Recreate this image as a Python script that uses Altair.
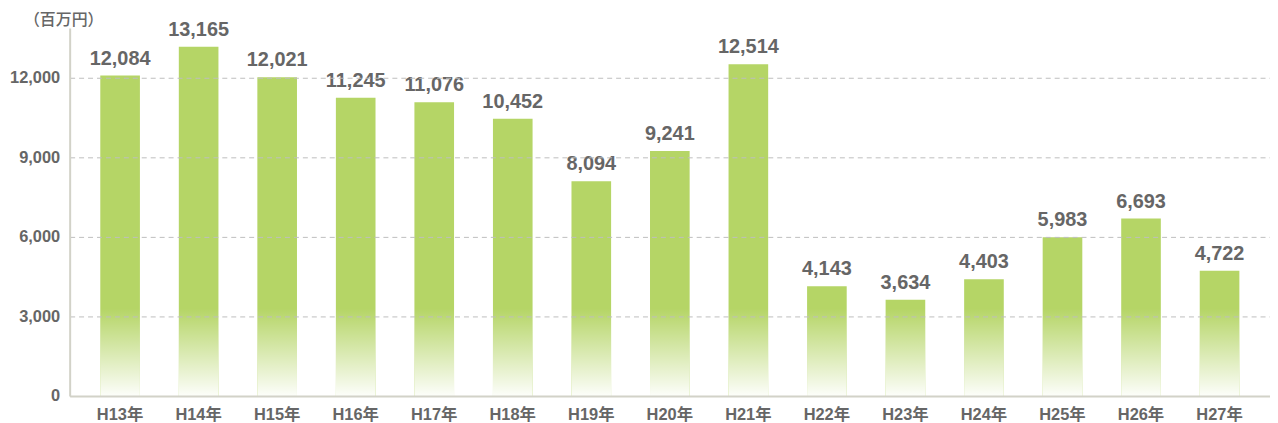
import altair as alt
import pandas as pd

years = ["H13年", "H14年", "H15年", "H16年", "H17年", "H18年", "H19年", "H20年",
         "H21年", "H22年", "H23年", "H24年", "H25年", "H26年", "H27年"]
values = [12084, 13165, 12021, 11245, 11076, 10452, 8094, 9241,
          12514, 4143, 3634, 4403, 5983, 6693, 4722]
y_ticks = [0, 3000, 6000, 9000, 12000]
unit_label = "（百万円）"
fade_level = 3300

df = pd.DataFrame({"year": years, "value": values, "fade": [fade_level] * len(years)})

FONT = "'Liberation Sans', Arial, 'Noto Sans CJK JP', sans-serif"
TEXT = "#666666"

xaxis = alt.Axis(title=None, labelAngle=0, labelFontSize=16.5, labelFontWeight="bold",
                 labelColor=TEXT, labelFont=FONT, ticks=False, labelPadding=11,
                 domainColor="#d2d2c8", domainWidth=2, zindex=1)
yaxis = alt.Axis(title=None, values=y_ticks, labelExpr="format(datum.value, ',')",
                 labelFontSize=16.5, labelFontWeight="bold", labelColor=TEXT, labelFont=FONT,
                 ticks=False, labelPadding=10, domainColor="#d2d2c8",
                 domainWidth=2, gridColor="#bdbdbd", gridDash=[5, 4],
                 gridWidth=1, zindex=1)
xscale = alt.Scale(paddingInner=0.4954, paddingOuter=0.39)
yscale = alt.Scale(domain=[0, 13875], nice=False, zero=True)

x = alt.X("year:N", sort=years, scale=xscale, axis=xaxis)

bars = alt.Chart(df).mark_bar(color="#b5d566").encode(
    x=x,
    y=alt.Y("value:Q", scale=yscale, axis=yaxis),
)

fade = alt.Chart(df).mark_bar(
    fill=alt.Gradient(gradient="linear", x1=0, y1=0, x2=0, y2=1,
                      stops=[alt.GradientStop(color="rgba(255,255,255,0)", offset=0),
                             alt.GradientStop(color="rgba(255,255,255,0.97)", offset=1)])
).encode(
    x=x,
    y=alt.Y("fade:Q", scale=yscale, axis=yaxis),
)

labels = alt.Chart(df).mark_text(
    dy=-11, baseline="alphabetic", fontSize=20, fontWeight="bold", color=TEXT, font=FONT
).encode(
    x=x,
    y=alt.Y("value:Q", scale=yscale, axis=yaxis),
    text=alt.Text("value:Q", format=","),
)

unit = alt.Chart(pd.DataFrame({"t": [unit_label]})).mark_text(
    align="left", baseline="middle", fontSize=16, fontWeight=500, color=TEXT,
    font="'Noto Sans CJK JP', sans-serif"
).encode(
    x=alt.value(-46), y=alt.value(-8), text="t:N"
)

chart = alt.layer(bars, fade, labels, unit).properties(
    width=1207, height=370,
    autosize=alt.AutoSizeParams(type="none"),
    padding={"left": 62, "top": 19, "right": 0, "bottom": 26},
    background="white",
).configure_view(strokeWidth=0)

chart.save("out.html", embed_options={"renderer": "svg", "actions": False})
